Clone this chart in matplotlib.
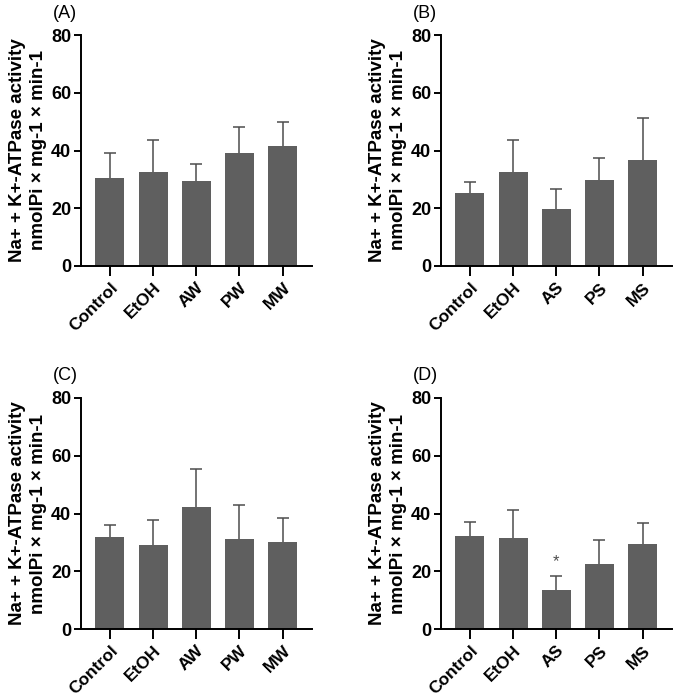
import numpy as np
import matplotlib.pyplot as plt

plt.rcParams['font.family'] = ['Liberation Sans', 'DejaVu Sans']

groups_w = ["Control", "EtOH", "AW", "PW", "MW"]
groups_s = ["Control", "EtOH", "AS", "PS", "MS"]

mean_a = [30.6, 32.4, 29.4, 39.0, 41.6]
err_a = [8.6, 11.1, 5.8, 9.2, 8.4]
mean_b = [25.2, 32.5, 19.9, 29.8, 36.7]
err_b = [4.0, 11.0, 6.7, 7.5, 14.6]
mean_c = [32.0, 29.0, 42.1, 31.0, 30.0]
err_c = [4.1, 8.7, 13.4, 11.8, 8.4]
mean_d = [32.2, 31.6, 13.6, 22.5, 29.4]
err_d = [4.7, 9.7, 4.8, 8.2, 7.3]

ylabel = "Na+ + K+-ATPase activity\nnmolPi \u00d7 mg-1 \u00d7 min-1"

fig = plt.figure(figsize=(6.75, 6.98), dpi=100)
W, H = 675, 698

panels = [
    ("(A)", groups_w, mean_a, err_a, 81, 35, 266),
    ("(B)", groups_s, mean_b, err_b, 441, 35, 266),
    ("(C)", groups_w, mean_c, err_c, 81, 398, 629),
    ("(D)", groups_s, mean_d, err_d, 441, 398, 629),
]

for lab, cats, means, errs, x0, ytop, ybot in panels:
    ax = fig.add_axes([x0 / W, 1 - ybot / H, 231 / W, (ybot - ytop) / H])
    x = np.arange(len(cats))
    ax.bar(x, means, width=0.67, color='#5f5f5f', zorder=2)
    eb = ax.errorbar(x, means, yerr=[np.zeros(len(errs)), errs], fmt='none',
                     ecolor='#4d4d4d', elinewidth=1.1, capsize=4.5, capthick=1.1, zorder=1)
    eb[1][0].set_visible(False)  # hide lower caps
    ax.set_xlim(-0.67, 4.68)
    ax.set_ylim(0, 80)
    ax.set_yticks([0, 20, 40, 60, 80])
    ax.set_xticks(x)
    ax.set_xticklabels(cats, rotation=45, ha='right', rotation_mode='anchor',
                       fontsize=12.5, fontweight='bold')
    for t in ax.get_yticklabels():
        t.set_fontsize(13)
        t.set_fontweight('bold')
    ax.spines['top'].set_visible(False)
    ax.spines['right'].set_visible(False)
    ax.spines['left'].set_linewidth(1.4)
    ax.spines['bottom'].set_linewidth(1.4)
    ax.tick_params(axis='y', length=5, width=1.4, pad=2)
    ax.tick_params(axis='x', length=7, width=1.4, pad=3)
    ax.set_ylabel(ylabel, fontsize=13.5, fontweight='bold', labelpad=3, linespacing=1.3)
    fig.text((x0 - 28) / W, 1 - (ytop - 22) / H, lab, fontsize=13, ha='left', va='center')

# significance mark
ax.text(2, 23.5, "*", ha='center', va='center', fontsize=12, color='#4d4d4d')

plt.savefig('out.png', dpi=100)
